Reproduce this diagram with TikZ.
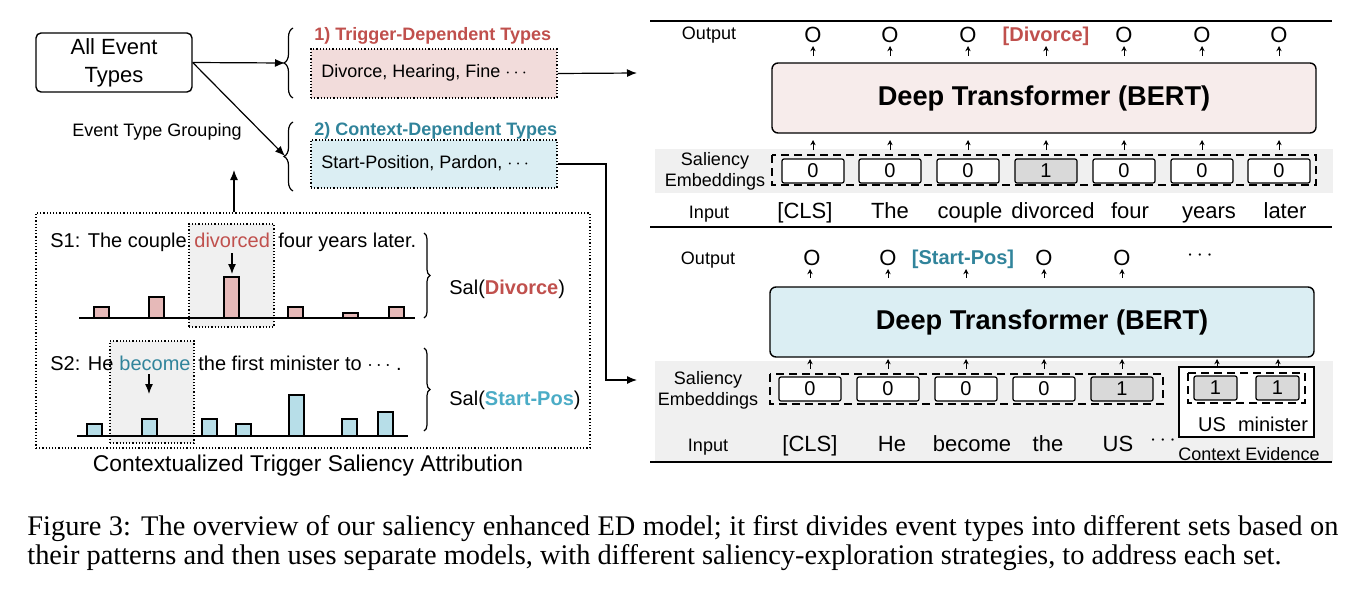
\documentclass[tikz,border=0pt]{standalone}
\usepackage{fontspec}
\setmainfont{Liberation Sans}
\newfontfamily\capfont{Liberation Serif}
\usetikzlibrary{arrows.meta,decorations.pathreplacing,calc}
\definecolor{tred}{RGB}{192,80,77}
\definecolor{tteal}{RGB}{49,132,155}
\definecolor{tcyan}{RGB}{75,172,198}
\definecolor{pinkbox}{RGB}{242,220,219}
\definecolor{bluebox}{RGB}{219,238,243}
\definecolor{pinkbar}{RGB}{230,185,184}
\definecolor{bluebar}{RGB}{183,222,232}
\definecolor{pinkbert}{RGB}{247,236,235}
\definecolor{bandgray}{RGB}{240,240,240}
\definecolor{cellgray}{RGB}{217,217,217}
\newcommand\fsz[1]{\fontsize{#1pt}{#1pt}\selectfont}
\tikzset{
  lbl/.style={inner sep=0pt},
  arr/.style={-{Latex[length=5pt,width=4pt]}, line width=0.6pt},
  sarr/.style={-{Stealth[length=2.6pt,width=2.6pt]}, line width=0.5pt},
  dotbox/.style={draw, densely dotted, line width=0.6pt, inner sep=0pt},
  cell/.style={draw, rounded corners=1pt, line width=0.6pt, minimum width=31pt, minimum height=12pt, inner sep=0pt, font=\fsz{10}},
  smallcell/.style={cell, minimum width=21.5pt, fill=cellgray},
  bert/.style={draw, rounded corners=3pt, line width=0.7pt, minimum width=272pt, minimum height=35pt, inner sep=0pt, font={\fsz{13.6}\bfseries}},
  dgrp/.style={draw, dash pattern=on 4pt off 2.5pt, line width=0.7pt},
  rule/.style={line width=0.8pt},
  brL/.style={decorate, decoration={brace, amplitude=4.5pt}, line width=0.6pt},
  brR/.style={decorate, decoration={brace, amplitude=3pt}, line width=0.6pt},
  pbar/.style={fill=pinkbar, draw, line width=0.6pt},
  bbar/.style={fill=bluebar, draw, line width=0.6pt},
  captxt/.style={inner sep=0pt, anchor=base west, font={\capfont\fontsize{14.2pt}{16pt}\selectfont}},
}
\begin{document}
\begin{tikzpicture}[x=0.5pt,y=-0.5pt]
\useasboundingbox (0,0) rectangle (1365,595);

% ---------------- left: grouping ----------------
\node[draw, rounded corners=2.5pt, line width=0.7pt, minimum width=78pt, minimum height=29.5pt, inner sep=0pt, align=center, font={\fontsize{11pt}{14pt}\selectfont}] (all) at (114,62.5) {All Event\\Types};
\coordinate (b1) at (285,63);
\coordinate (b2) at (285,156);
\draw[brL] (293,98) -- (293,28);
\draw[brL] (293,191) -- (293,122);
\draw[arr] (all.east) -- (b1);
\draw[arr] (all.east) -- (b2);
\node[lbl, anchor=base, font=\fsz{9}] (etg) at (157,136.5) {Event Type Grouping};

\node[lbl, anchor=base west, font={\fsz{9}\bfseries}, text=tred] (t1) at (314,40.5) {1) Trigger-Dependent Types};
\node[dotbox, fill=pinkbox, minimum width=123pt, minimum height=24.5pt] (tdbox) at (434,73.5) {};
\node[lbl, anchor=base west, font=\fsz{9}] (tdtxt) at (321,77.5) {Divorce, Hearing, Fine $\cdots$};

\node[lbl, anchor=base west, font={\fsz{9}\bfseries}, text=tteal] (t2) at (314,135.5) {2) Context-Dependent Types};
\node[dotbox, fill=bluebox, minimum width=123pt, minimum height=24pt] (cdbox) at (434,164) {};
\node[lbl, anchor=base west, font=\fsz{9}] (cdtxt) at (321,168.5) {Start-Position, Pardon, $\cdots$};

\coordinate (r1) at (637,73);
\draw[arr] (tdbox.east) -- (r1);
\coordinate (bend) at (606,380);
\coordinate (r2) at (637,380);
\draw[arr] (cdbox.east) -| (bend) -- (r2);

% ---------------- left: saliency attribution ----------------
\node[dotbox, minimum width=277pt, minimum height=117.5pt] (ctsa) at (313,330.5) {};
\coordinate (upB) at (234,170);
\draw[arr] (ctsa.north -| upB) -- (upB);
\node[dotbox, fill=bandgray, minimum width=42.5pt, minimum height=51.5pt] (g1) at (231.5,275.5) {};
\node[dotbox, fill=bandgray, minimum width=42pt, minimum height=51pt] (g2) at (152,392) {};

\node[lbl, anchor=base west, font=\fsz{10}] (s1a) at (50,247) {S1: The couple};
\node[lbl, anchor=base west, font=\fsz{10}, text=tred] (s1b) at (194,247) {divorced};
\node[lbl, anchor=base west, font=\fsz{10}] (s1c) at (278,247) {four years later.};
\node[lbl, anchor=base west, font=\fsz{10}] (s2a) at (50,370) {S2: He};
\node[lbl, anchor=base west, font=\fsz{10}, text=tteal] (s2b) at (119,370) {become};
\node[lbl, anchor=base west, font=\fsz{10}] (s2c) at (198,370) {the first minister to $\cdots$ .};

\coordinate (d1a) at (232,253); \coordinate (d1b) at (232,274);
\draw[arr] (d1a) -- (d1b);
\coordinate (d2a) at (149,374); \coordinate (d2b) at (149,394);
\draw[arr] (d2a) -- (d2b);

\foreach \x/\t in {94/307,149/297,224/277,288/307,343/313,389/307}
  \draw[pbar] (\x,318) rectangle ++(15,\t-318);
\draw[line width=0.8pt] (79,318) -- (415,318);
\foreach \x/\t in {87/424,142/419,202/419,236/424,289/395,342/419,378/412}
  \draw[bbar] (\x,436) rectangle ++(15,\t-436);
\draw[line width=0.8pt] (77,436) -- (408,436);

\draw[brR] (424,233) -- (424,318);
\draw[brR] (424,348) -- (424,431);
\node[lbl, anchor=base west, font=\fsz{10}] (sal1) at (449,294) {Sal(\textcolor{tred}{\bfseries Divorce})};
\node[lbl, anchor=base west, font=\fsz{10}] (sal2) at (449,405) {Sal(\textcolor{tcyan}{\bfseries Start-Pos})};
\node[lbl, anchor=base, font=\fsz{11.4}] (ctsalbl) at (308,471) {Contextualized Trigger Saliency Attribution};

% ---------------- right: top model ----------------
\fill[bandgray] (655,149) rectangle (1333,193);
\fill[bandgray] (655,361) rectangle (1333,462);
\foreach \y in {21,227,462} \draw[rule] (650,\y) -- (1332,\y);

\node[lbl, anchor=base, font=\fsz{9}] (out1) at (709,39.5) {Output};
\node[lbl, align=center, font={\fontsize{9pt}{10.5pt}\selectfont}] (se1) at (715,171.5) {Saliency\\Embeddings};
\node[lbl, anchor=base, font=\fsz{9}] (in1) at (709,218) {Input};
\node[bert, fill=pinkbert] (bert1) at (1044,98) {Deep Transformer (BERT)};
\draw[dgrp] (772,155) rectangle (1316,185);
\foreach \x/\v/\f [count=\i] in {813/0/white,890/0/white,968/0/white,1046/1/cellgray,1124/0/white,1202/0/white,1279/0/white}{
  \node[cell, fill=\f] (ta\i) at (\x,171) {\v};
  \draw[sarr] (\x,150) -- (\x,140);
  \draw[sarr] (\x,56) -- (\x,46);
}
\foreach \x [count=\i] in {813,890,968,1124,1202,1279}
  \node[lbl, anchor=base, font=\fsz{11}] (to\i) at (\x,42) {O};
\node[lbl, anchor=base, font={\fsz{10}\bfseries}, text=tred] (tdiv) at (1046,41) {[Divorce]};
\foreach \x/\w [count=\i] in {805/{[CLS]},890/The,970/couple,1053/divorced,1130/four,1209/years,1285/later}
  \node[lbl, anchor=base, font=\fsz{11}] (ti\i) at (\x,218) {\w};

% ---------------- right: bottom model ----------------
\node[lbl, anchor=base, font=\fsz{9}] (out2) at (708,264) {Output};
\node[lbl, align=center, font={\fontsize{9pt}{10.5pt}\selectfont}] (se2) at (708,390) {Saliency\\Embeddings};
\node[lbl, anchor=base, font=\fsz{9}] (in2) at (708,451) {Input};
\node[bert, fill=bluebox] (bert2) at (1042,322) {Deep Transformer (BERT)};
\draw[dgrp] (770,374) rectangle (1163,404);
\foreach \x/\v/\f [count=\i] in {810/0/white,888/0/white,966/0/white,1044/0/white,1122/1/cellgray}{
  \node[cell, fill=\f] (ba\i) at (\x,389) {\v};
  \draw[sarr] (\x,369) -- (\x,359);
  \draw[sarr] (\x,278) -- (\x,269);
}
\foreach \x [count=\i] in {812,888,1044,1122}
  \node[lbl, anchor=base, font=\fsz{11}] (bo\i) at (\x,265) {O};
\node[lbl, anchor=base, font={\fsz{10}\bfseries}, text=tteal] (bsp) at (963,264) {[Start-Pos]};
\node[lbl, font=\fsz{11}] (bdots) at (1200,256) {$\cdots$};

\node[draw, fill=white, line width=0.7pt, minimum width=67.5pt, minimum height=35pt, inner sep=0pt] (ctx) at (1246.5,402) {};
\draw[dgrp] (1188,373) rectangle (1305,403);
\node[smallcell] (cx1) at (1215.5,388) {1};
\node[smallcell] (cx2) at (1277.5,388) {1};
\draw[sarr] (1217,367) -- (1217,359);
\draw[sarr] (1278,367) -- (1278,359);
\node[lbl, anchor=base, font=\fsz{10}] (us) at (1212,431) {US};
\node[lbl, anchor=base, font=\fsz{10}] (mini) at (1273,431) {minister};
\node[lbl, anchor=base, font=\fsz{9}] (cev) at (1249,460) {Context Evidence};

\foreach \x/\w [count=\i] in {810/{[CLS]},892/He,972/become,1048/the,1118/US}
  \node[lbl, anchor=base, font=\fsz{11}] (bi\i) at (\x,451) {\w};
\node[lbl, font=\fsz{11}] (bidots) at (1163,441) {$\cdots$};

% ---------------- caption ----------------
\node[captxt] (cap1) at (27,535) {\hbox to 655.5pt{Figure 3: The overview of our saliency enhanced ED model; it first divides event types into different sets based on}};
\node[captxt] (cap2) at (27,564) {their patterns and then uses separate models, with different saliency-exploration strategies, to address each set.};
\end{tikzpicture}
\end{document}
